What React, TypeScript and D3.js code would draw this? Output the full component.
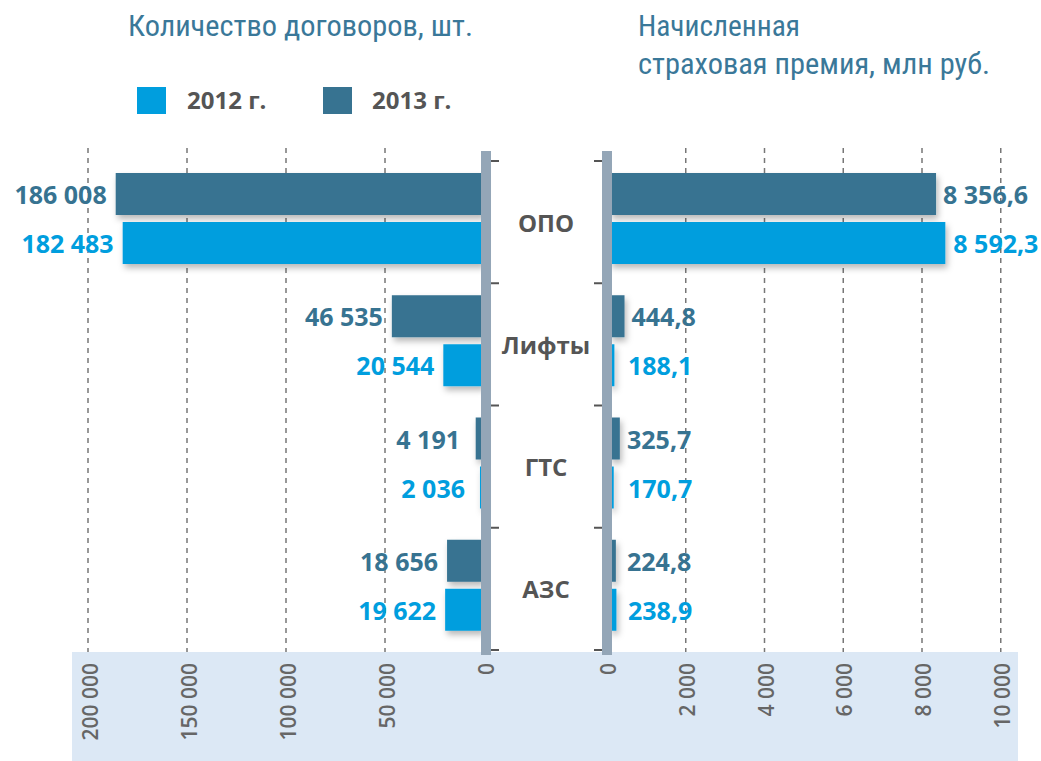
import React from "react";
import * as d3 from "d3";

// categories top to bottom
const categories = ["ОПО", "Лифты", "ГТС", "АЗС"];
const years = ["2012 г.", "2013 г."];

// number of contracts, pcs
const contracts2013 = [186008, 46535, 4191, 18656];
const contracts2012 = [182483, 20544, 2036, 19622];

// insurance premium, mln rub
const premium2013 = [8356.6, 444.8, 325.7, 224.8];
const premium2012 = [8592.3, 188.1, 170.7, 238.9];

const leftTicks = [0, 50000, 100000, 150000, 200000];
const rightTicks = [0, 2000, 4000, 6000, 8000, 10000];

const C2012 = "#009ede";
const C2013 = "#377391";
const AXIS = "#94a6b7";
const TXT = "#555555";
const TITLE = "#3a7899";
const FONT = "'Open Sans', 'DejaVu Sans', sans-serif";
const NARROW = "'Roboto Condensed', 'Liberation Sans Narrow', 'DejaVu Sans Condensed', Roboto, sans-serif";

const W = 1041;
const H = 761;

// russian style numbers: space for thousands, comma for decimals
const fmtInt = (v: number) => d3.format(",d")(v).replace(/,/g, " ");
const fmtDec = (v: number) => d3.format(",.1f")(v).replace(/,/g, " ").replace(".", ",");

export default function App() {
  const xL = d3.scaleLinear().domain([0, 200000]).range([484, 88]);
  const xR = d3.scaleLinear().domain([0, 8000]).range([607, 922]);
  const y = d3.scaleBand<string>().domain(categories).range([161, 650]);

  const barH = 42;
  const off13 = 12;
  const off12 = 61;
  const gridTop = 148;
  const gridBottom = 652;
  const leftEdge = 481; // bars run out from under the gray axes
  const rightEdge = 612;

  const bandEdges = categories.map((c) => y(c)!).concat([650]);

  return (
    <svg
      width={W}
      height={H}
      style={{ position: "absolute", left: 0, top: 0, display: "block", background: "#fff" }}
    >
      <defs>
        <filter id="sh" x="-10%" y="-30%" width="130%" height="180%">
          <feDropShadow dx="2" dy="4" stdDeviation="3" floodColor="#000" floodOpacity="0.28" />
        </filter>
      </defs>

      {/* titles */}
      <text x={128} y={36} fontFamily={NARROW} fontSize={30} fill={TITLE} textLength={345} lengthAdjust="spacingAndGlyphs">
        Количество договоров, шт.
      </text>
      <text x={638} y={36} fontFamily={NARROW} fontSize={30} fill={TITLE} textLength={162} lengthAdjust="spacingAndGlyphs">
        Начисленная
      </text>
      <text x={638} y={74} fontFamily={NARROW} fontSize={30} fill={TITLE} textLength={352} lengthAdjust="spacingAndGlyphs">
        страховая премия, млн руб.
      </text>

      {/* legend */}
      <rect x={137} y={87} width={29} height={27} fill={C2012} />
      <text x={187} y={109} fontFamily={FONT} fontWeight={700} fontSize={24} fill={TXT}>{years[0]}</text>
      <rect x={323} y={87} width={29} height={27} fill={C2013} />
      <text x={372} y={109} fontFamily={FONT} fontWeight={700} fontSize={24} fill={TXT}>{years[1]}</text>

      {/* bottom band */}
      <rect x={72} y={652} width={946} height={H - 652} fill="#dce8f5" />

      {/* grid lines */}
      {leftTicks.slice(1).map((t) => (
        <line key={"gl" + t} x1={xL(t)} x2={xL(t)} y1={gridTop} y2={gridBottom} stroke="#777" strokeWidth={1.5} strokeDasharray="5,5" />
      ))}
      {rightTicks.slice(1).map((t) => (
        <line key={"gr" + t} x1={xR(t)} x2={xR(t)} y1={gridTop} y2={gridBottom} stroke="#777" strokeWidth={1.5} strokeDasharray="5,5" />
      ))}

      {/* bars */}
      {categories.map((c, i) => {
        const y0 = y(c)!;
        return (
          <g key={c} filter="url(#sh)">
            <rect x={xL(contracts2013[i])} y={y0 + off13} width={leftEdge - xL(contracts2013[i]) + 2} height={barH} fill={C2013} />
            <rect x={xL(contracts2012[i])} y={y0 + off12} width={leftEdge - xL(contracts2012[i]) + 2} height={barH} fill={C2012} />
            <rect x={rightEdge - 2} y={y0 + off13} width={xR(premium2013[i]) - rightEdge + 2} height={barH} fill={C2013} />
            <rect x={rightEdge - 2} y={y0 + off12} width={xR(premium2012[i]) - rightEdge + 2} height={barH} fill={C2012} />
          </g>
        );
      })}

      {/* value labels */}
      {categories.map((c, i) => {
        const y0 = y(c)!;
        const ly13 = y0 + off13 + barH / 2;
        const ly12 = y0 + off12 + barH / 2;
        return (
          <g key={"l" + c} fontFamily={FONT} fontWeight={700} fontSize={25} dominantBaseline="central">
            <text x={Math.min(xL(contracts2013[i]) - 9, 460)} y={ly13} textAnchor="end" fill={C2013}>{fmtInt(contracts2013[i])}</text>
            <text x={Math.min(xL(contracts2012[i]) - 9, 465)} y={ly12} textAnchor="end" fill={C2012}>{fmtInt(contracts2012[i])}</text>
            <text x={Math.max(xR(premium2013[i]) + 7, 627)} y={ly13} fill={C2013}>{fmtDec(premium2013[i])}</text>
            <text x={Math.max(xR(premium2012[i]) + 8, 628)} y={ly12} fill={C2012}>{fmtDec(premium2012[i])}</text>
          </g>
        );
      })}

      {/* category axes */}
      <rect x={481} y={151} width={10} height={504} fill={AXIS} />
      <rect x={602} y={151} width={10} height={504} fill={AXIS} />
      {bandEdges.map((e, i) => (
        <g key={"t" + i}>
          <line x1={491} x2={499} y1={e} y2={e} stroke={TXT} strokeWidth={2} />
          <line x1={594} x2={602} y1={e} y2={e} stroke={TXT} strokeWidth={2} />
        </g>
      ))}
      {categories.map((c) => (
        <text
          key={"c" + c}
          x={546}
          y={y(c)! + y.bandwidth() / 2}
          textAnchor="middle"
          dominantBaseline="central"
          fontFamily={FONT}
          fontWeight={700}
          fontSize={24}
          fill={TXT}
        >
          {c}
        </text>
      ))}

      {/* bottom tick labels */}
      {leftTicks.map((t) => (
        <text
          key={"tl" + t}
          transform={`translate(${xL(t) + 2},663) rotate(-90)`}
          textAnchor="end"
          dominantBaseline="central"
          fontFamily={FONT}
          fontWeight={600}
          fontSize={21}
          fill="#666"
        >
          {fmtInt(t)}
        </text>
      ))}
      {rightTicks.map((t) => (
        <text
          key={"tr" + t}
          transform={`translate(${xR(t) + 1},663) rotate(-90)`}
          textAnchor="end"
          dominantBaseline="central"
          fontFamily={FONT}
          fontWeight={600}
          fontSize={21}
          fill="#666"
        >
          {fmtInt(t)}
        </text>
      ))}
    </svg>
  );
}
